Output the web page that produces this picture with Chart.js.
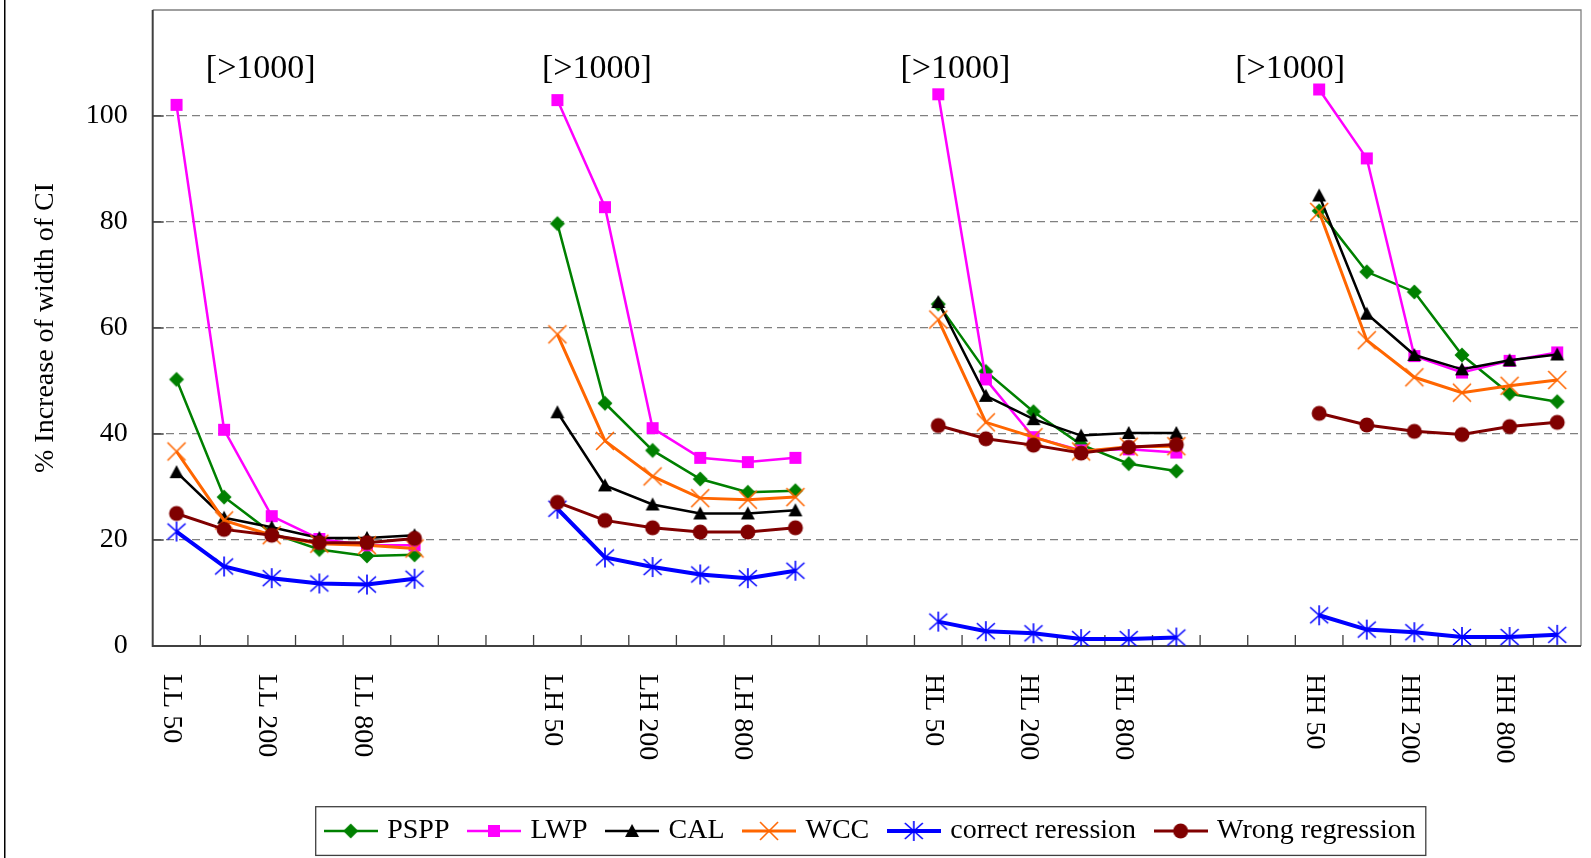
<!DOCTYPE html>
<html>
<head>
<meta charset="utf-8">
<script src="https://cdn.jsdelivr.net/npm/chart.js@4"></script>
<style>
  html, body { margin: 0; padding: 0; background: #fff; }
  #wrap { width: 1591px; height: 858px; position: relative; }
</style>
</head>
<body>
<div id="wrap"><canvas id="chart"></canvas></div>
<script>
// categories: 4 groups of 6 sample sizes, two empty slots between groups
var categories = [
  'LL 50', '', 'LL 200', '', 'LL 800', '', '', '',
  'LH 50', '', 'LH 200', '', 'LH 800', '', '', '',
  'HL 50', '', 'HL 200', '', 'HL 800', '', '', '',
  'HH 50', '', 'HH 200', '', 'HH 800', ''
];

// % increase of width of CI, 6 values per group (LL, LH, HL, HH)
var pspp    = [50.3, 28.1, 21.3, 18.2, 17.0, 17.2,  79.7, 45.8, 36.9, 31.5, 29.0, 29.3,  64.5, 51.8, 44.2, 38.0, 34.4, 33.0,  82.1, 70.6, 66.8, 54.9, 47.6, 46.1];
var lwp     = [102.1, 40.8, 24.5, 20.2, 19.0, 19.0, 103.0, 82.8, 41.1, 35.5, 34.7, 35.5, 104.1, 50.3, 39.4, 36.9, 37.1, 36.5, 105.0, 92.0, 54.7, 51.6, 53.8, 55.4];
var cal     = [32.8, 24.2, 22.4, 20.4, 20.4, 20.9,  44.1, 30.3, 26.7, 25.0, 25.0, 25.6,  64.9, 47.2, 42.8, 39.7, 40.2, 40.2,  85.0, 62.7, 54.9, 52.2, 53.9, 55.0];
var wcc     = [36.7, 23.7, 20.9, 19.3, 19.0, 18.4,  58.8, 38.7, 32.0, 27.9, 27.6, 28.1,  61.6, 42.2, 39.4, 36.7, 37.6, 37.7,  81.9, 57.7, 50.7, 47.8, 49.1, 50.2];
var correct = [21.6, 15.0, 12.8, 11.8, 11.6, 12.7,  25.9, 16.7, 14.9, 13.5, 12.8, 14.2,   4.6,  2.8,  2.4,  1.3,  1.3,  1.6,   5.8,  3.1,  2.6,  1.7,  1.7,  2.1];
var wrong   = [25.0, 22.0, 20.9, 19.5, 19.5, 20.3,  27.1, 23.7, 22.3, 21.5, 21.5, 22.3,  41.6, 39.1, 37.9, 36.4, 37.5, 38.0,  43.9, 41.7, 40.5, 39.9, 41.4, 42.2];

var yTicks = [0, 20, 40, 60, 80, 100];
var noteText = '[>1000]';

var SERIF = "'Liberation Serif', 'Times New Roman', serif";
Chart.defaults.font.family = SERIF;
Chart.defaults.color = '#000';

// put 24 values into the 30 category slots (gaps stay null)
function spread(vals) {
  var out = categories.map(function () { return null; });
  vals.forEach(function (v, i) { out[Math.floor(i / 6) * 8 + i % 6] = v; });
  return out;
}

function drawMarker(ctx, style, color, cx, cy) {
  ctx.fillStyle = color;
  ctx.strokeStyle = color;
  ctx.beginPath();
  if (style === 'diamond') {
    ctx.moveTo(cx, cy - 7.5); ctx.lineTo(cx + 7.5, cy); ctx.lineTo(cx, cy + 7.5); ctx.lineTo(cx - 7.5, cy);
    ctx.closePath(); ctx.fill();
  } else if (style === 'square') {
    ctx.fillRect(cx - 6, cy - 6, 12, 12);
  } else if (style === 'triangle') {
    ctx.moveTo(cx, cy - 7); ctx.lineTo(cx + 7, cy + 6); ctx.lineTo(cx - 7, cy + 6);
    ctx.closePath(); ctx.fill();
  } else if (style === 'x') {
    ctx.lineWidth = 1.6;
    ctx.moveTo(cx - 9, cy - 9); ctx.lineTo(cx + 9, cy + 9);
    ctx.moveTo(cx + 9, cy - 9); ctx.lineTo(cx - 9, cy + 9);
    ctx.stroke();
  } else if (style === 'star') {
    ctx.lineWidth = 1.6;
    ctx.moveTo(cx, cy - 10); ctx.lineTo(cx, cy + 10);
    ctx.moveTo(cx - 9, cy - 8); ctx.lineTo(cx + 9, cy + 8);
    ctx.moveTo(cx + 9, cy - 8); ctx.lineTo(cx - 9, cy + 8);
    ctx.stroke();
  } else if (style === 'circle') {
    ctx.arc(cx, cy, 7.5, 0, Math.PI * 2); ctx.fill();
  }
}

function pointImage(style, color) {
  var c = document.createElement('canvas');
  c.width = 24; c.height = 24;
  drawMarker(c.getContext('2d'), style, color, 12, 12);
  return c;
}

function legendImage(style, color, width) {
  var c = document.createElement('canvas');
  c.width = 54; c.height = 28;
  var g = c.getContext('2d');
  g.strokeStyle = color; g.lineWidth = width;
  g.beginPath(); g.moveTo(0, 14); g.lineTo(54, 14); g.stroke();
  drawMarker(g, style, color, 27, 14);
  return c;
}

var series = [
  { name: 'PSPP',              values: pspp,    color: '#008000', width: 2.5, marker: 'diamond' },
  { name: 'LWP',               values: lwp,     color: '#ff00ff', width: 2.5, marker: 'square' },
  { name: 'CAL',               values: cal,     color: '#000000', width: 2.5, marker: 'triangle' },
  { name: 'WCC',               values: wcc,     color: '#ff6600', width: 3,   marker: 'x' },
  { name: 'correct reression', values: correct, color: '#0000ff', width: 4,   marker: 'star' },
  { name: 'Wrong regression',  values: wrong,   color: '#800000', width: 3,   marker: 'circle' }
];
var legendImgs = series.map(function (s) { return legendImage(s.marker, s.color, s.width); });

var LEGEND_PAD = 22;

var frame = {
  id: 'frame',
  afterLayout: function (chart) {
    chart.legend.left += 80;
    chart.legend.right += 80;
  },
  beforeDatasetsDraw: function (chart) {
    var ctx = chart.ctx, a = chart.chartArea, x = chart.scales.x, y = chart.scales.y;
    ctx.save();
    ctx.strokeStyle = '#808080'; ctx.lineWidth = 1.3;
    ctx.beginPath(); ctx.moveTo(a.left, a.top); ctx.lineTo(a.right, a.top); ctx.lineTo(a.right, a.bottom); ctx.stroke();
    ctx.strokeStyle = '#404040'; ctx.lineWidth = 2;
    ctx.beginPath(); ctx.moveTo(a.left, a.top); ctx.lineTo(a.left, a.bottom); ctx.lineTo(a.right, a.bottom); ctx.stroke();
    ctx.lineWidth = 1.3;
    ctx.beginPath();
    for (var i = 0; i < categories.length - 1; i++) {
      var px = x.getPixelForValue(i + 0.5);
      ctx.moveTo(px, a.bottom); ctx.lineTo(px, a.bottom - 11);
    }
    y.ticks.forEach(function (t) {
      var py = y.getPixelForValue(t.value);
      ctx.moveTo(a.left, py); ctx.lineTo(a.left + 11, py);
    });
    ctx.stroke();
    ctx.restore();
  },
  afterDraw: function (chart) {
    var ctx = chart.ctx, a = chart.chartArea, x = chart.scales.x, y = chart.scales.y;
    ctx.save();
    // rotated category labels, reading top to bottom
    ctx.fillStyle = '#000';
    ctx.font = '28px ' + SERIF;
    ctx.textAlign = 'left'; ctx.textBaseline = 'middle';
    categories.forEach(function (lab, i) {
      if (!lab) return;
      ctx.save();
      ctx.translate(x.getPixelForValue(i) - 5, a.bottom + 28);
      ctx.rotate(Math.PI / 2);
      ctx.fillText(lab, 0, 0);
      ctx.restore();
    });
    // group notes
    ctx.font = '34px ' + SERIF;
    ctx.textAlign = 'center';
    [1.77, 8.83, 16.36, 23.39].forEach(function (pos) {
      ctx.fillText(noteText, x.getPixelForValue(pos), y.getPixelForValue(108.9));
    });
    // legend frame
    var lg = chart.legend;
    var start = (lg.left + LEGEND_PAD + lg.right - lg.lineWidths[0]) / 2;
    var l = start - 4.5 - 8, r = start + lg.lineWidths[0] - LEGEND_PAD + 10;
    var t = lg.top + LEGEND_PAD - 10.3, b = lg.top + LEGEND_PAD + 28 + 10.4;
    ctx.strokeStyle = '#404040'; ctx.lineWidth = 1.3;
    ctx.strokeRect(l, t, r - l, b - t);
    // outer chart edge
    ctx.fillStyle = '#000';
    ctx.fillRect(4, 0, 1.5, chart.height);
    ctx.restore();
  }
};

new Chart(document.getElementById('chart'), {
  type: 'line',
  data: {
    labels: categories,
    datasets: series.map(function (s, i) {
      return {
        label: s.name,
        data: spread(s.values),
        borderColor: s.color,
        backgroundColor: s.color,
        borderWidth: s.width,
        pointStyle: pointImage(s.marker, s.color),
        pointRadius: 6,
        pointHoverRadius: 6,
        tension: 0,
        fill: false,
        spanGaps: false,
        order: series.length - i
      };
    })
  },
  options: {
    responsive: true,
    maintainAspectRatio: false,
    animation: false,
    layout: { padding: { left: 0, right: 7, top: 9.3, bottom: 3 } },
    plugins: {
      tooltip: { enabled: false },
      legend: {
        position: 'bottom',
        labels: {
          usePointStyle: true,
          pointStyleWidth: 45,
          padding: LEGEND_PAD,
          font: { size: 28 },
          color: '#000',
          generateLabels: function (chart) {
            return Chart.defaults.plugins.legend.labels.generateLabels(chart)
              .sort(function (p, q) { return p.datasetIndex - q.datasetIndex; })
              .map(function (it) { it.pointStyle = legendImgs[it.datasetIndex]; return it; });
          }
        }
      }
    },
    scales: {
      x: {
        offset: true,
        grid: { display: false },
        border: { display: false },
        ticks: { display: false },
        afterFit: function (s) { s.height = 149; }
      },
      y: {
        min: 0,
        max: 120,
        afterFit: function (s) { s.width = 152.7; s.paddingTop = 0; s.paddingBottom = 0; },
        ticks: {
          stepSize: 20,
          padding: 25,
          font: { size: 28 },
          callback: function (v) { return yTicks.indexOf(v) >= 0 ? String(v) : null; }
        },
        grid: {
          drawTicks: false,
          lineWidth: 1.3,
          color: function (c) { return c.tick && c.tick.value === 0 ? 'rgba(0,0,0,0)' : '#808080'; }
        },
        border: { display: false, dash: [8, 5] },
        title: {
          display: true,
          text: '% Increase of width of CI',
          font: { size: 28 },
          padding: { top: 29, bottom: 0 }
        }
      }
    }
  },
  plugins: [frame]
});
</script>
</body>
</html>
